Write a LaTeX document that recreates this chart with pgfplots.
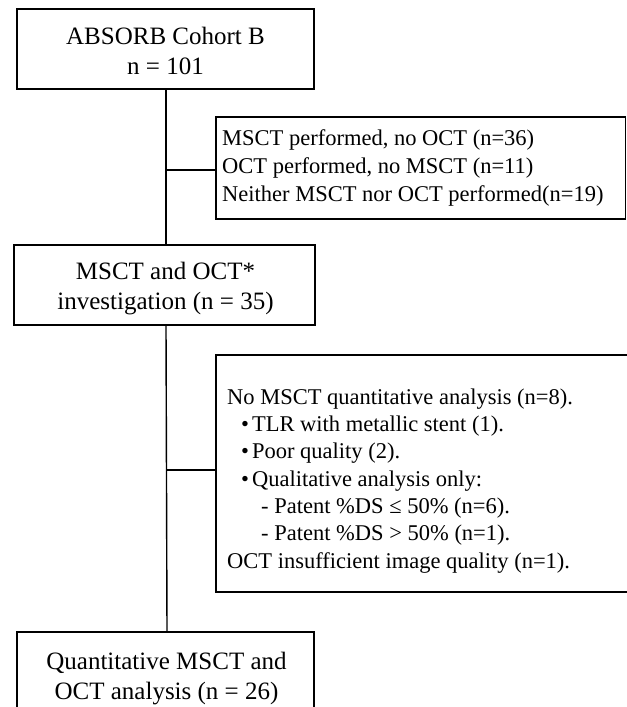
\documentclass[border=0pt]{standalone}
\usepackage{pgfplots}
\pgfplotsset{compat=1.18}
\usepackage{fontspec}
\setmainfont{Liberation Serif}

\newcommand{\boxfont}{\fontsize{25bp}{30bp}\selectfont}
\newcommand{\sidefont}{\fontsize{22.5bp}{27bp}\selectfont}

\begin{document}
\begin{tikzpicture}
\begin{axis}[
    hide axis,
    scale only axis,
    width=627bp, height=707bp,
    xmin=0, xmax=627, ymin=0, ymax=707,
    y dir=reverse,
    clip=true,
  ]
  % frame to fix the page size
  \addplot[draw=none, forget plot] coordinates {(0,0) (627,707)};

  % boxes
  \addplot[black, line width=1.8bp, line cap=rect, line join=miter]
    coordinates {(17,9) (314,9) (314,89) (17,89) (17,9)};
  \addplot[black, line width=1.8bp, line cap=rect, line join=miter]
    coordinates {(216,117) (625.5,117) (625.5,219) (216,219) (216,117)};
  \addplot[black, line width=1.8bp, line cap=rect, line join=miter]
    coordinates {(14,245) (315,245) (315,325) (14,325) (14,245)};
  \addplot[black, line width=1.8bp, line cap=rect, line join=miter]
    coordinates {(216,355) (629,355) (629,592) (216,592) (216,355)};
  \addplot[black, line width=1.8bp, line cap=rect, line join=miter]
    coordinates {(17,720) (17,632) (314,632) (314,720)};

  % connectors
  \addplot[black, line width=1.4bp] coordinates {(166,89) (166,245)};
  \addplot[black, line width=1.4bp] coordinates {(166,170) (216,170)};
  \addplot[black, line width=1.4bp] coordinates {(166,325) (167,632)};
  \addplot[black, line width=1.4bp] coordinates {(166,470) (216,470)};

  % main boxes text
  \node[font=\boxfont, anchor=base] at (axis cs:165.5,45) {ABSORB Cohort B};
  \node[font=\boxfont, anchor=base] at (axis cs:165.5,75) {n = 101};
  \node[font=\boxfont, anchor=base] at (axis cs:165.5,279) {MSCT and OCT*};
  \node[font=\boxfont, anchor=base] at (axis cs:165.5,309) {investigation (n = 35)};
  \node[font=\boxfont, anchor=base] at (axis cs:166.5,669) {Quantitative MSCT and};
  \node[font=\boxfont, anchor=base] at (axis cs:166.5,699) {OCT analysis (n = 26)};

  % side box 1
  \node[font=\sidefont, anchor=base west, inner sep=0pt] at (axis cs:222,146) {MSCT performed, no OCT (n=36)};
  \node[font=\sidefont, anchor=base west, inner sep=0pt] at (axis cs:222,174) {OCT performed, no MSCT (n=11)};
  \node[font=\sidefont, anchor=base west, inner sep=0pt] at (axis cs:222,202) {Neither MSCT nor OCT performed(n=19)};

  % side box 2
  \node[font=\sidefont, anchor=base west, inner sep=0pt] at (axis cs:227,404) {No MSCT quantitative analysis (n=8).};
  \node[font=\sidefont, anchor=base west, inner sep=0pt] at (axis cs:241,431) {•\kern3bp TLR with metallic stent (1).};
  \node[font=\sidefont, anchor=base west, inner sep=0pt] at (axis cs:241,458) {•\kern3bp Poor quality (2).};
  \node[font=\sidefont, anchor=base west, inner sep=0pt] at (axis cs:241,486) {•\kern3bp Qualitative analysis only:};
  \node[font=\sidefont, anchor=base west, inner sep=0pt] at (axis cs:261,513) {- Patent \%DS ≤ 50\% (n=6).};
  \node[font=\sidefont, anchor=base west, inner sep=0pt] at (axis cs:261,540) {- Patent \%DS > 50\% (n=1).};
  \node[font=\sidefont, anchor=base west, inner sep=0pt] at (axis cs:227,568) {OCT insufficient image quality (n=1).};
\end{axis}
\end{tikzpicture}
\end{document}
